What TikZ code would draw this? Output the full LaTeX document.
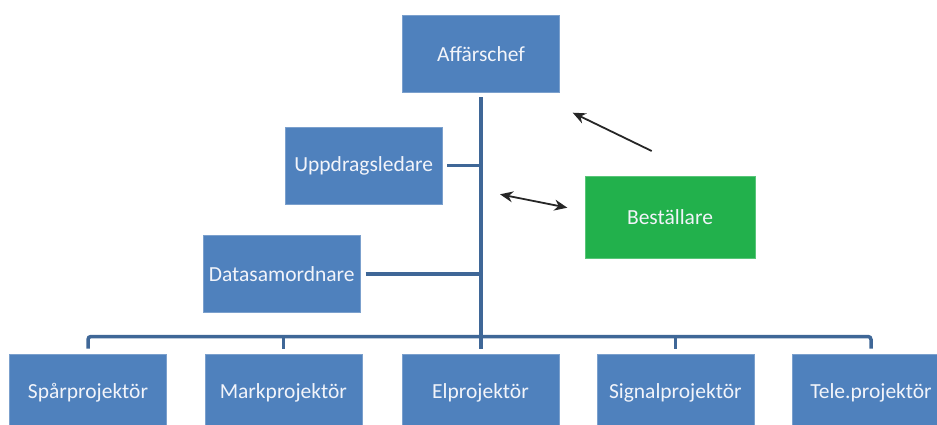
\documentclass[tikz,border=0pt]{standalone}
\usepackage{fontspec}
\setmainfont{Carlito}
\usetikzlibrary{arrows.meta}
\definecolor{boxblue}{HTML}{4F81BD}
\definecolor{lineblue}{HTML}{3F6797}
\definecolor{boxgreen}{HTML}{22B14C}
\definecolor{txt}{HTML}{F2F4FA}
\begin{document}
\begin{tikzpicture}[x=1pt,y=-1pt,
 box/.style={draw=boxblue!75!white, line width=0.6pt, fill=boxblue, text=txt,
   minimum width=157pt, minimum height=77pt, inner sep=0pt,
   font=\fontsize{21.5}{25}\selectfont},
 link/.style={draw=lineblue, line width=3.5pt},
 arr/.style={draw=black!85, line width=1.8pt, -{Stealth[length=13pt,width=11pt]}},
 darr/.style={draw=black!85, line width=1.8pt, {Stealth[length=13pt,width=11pt]}-{Stealth[length=13pt,width=11pt]}}]
\useasboundingbox (0,0) rectangle (937,425);

\node[box] (chef) at (481,53.7) {Affärschef};
\node[box] (upp) at (363.7,165.5) {Uppdragsledare};
\node[box] (data) at (281.7,274) {Datasamordnare};
\node[box, fill=boxgreen, draw=boxgreen!75!white, minimum width=170pt, minimum height=82pt] (best) at (670,217) {Beställare};

\node[box] (spar) at (88,392.5) {Spårprojektör};
\node[box] (mark) at (283.3,392.5) {Markprojektör};
\node[box] (el) at (480.5,392.5) {Elprojektör};
\node[box] (sig) at (675.3,392.5) {Signalprojektör};
\node[box] (tele) at (871,392.5) {Tele.projektör};

\coordinate (bus) at (481,336.5);

\draw[link] ([yshift=-5pt]chef.south) -- ([yshift=5pt]el.north -| chef.south);
\draw[link] ([xshift=4.5pt]upp.east) -- (upp.east -| chef.south);
\draw[link] ([xshift=5pt]data.east) -- (data.east -| chef.south);
\draw[link, rounded corners=3pt] ([yshift=5pt]spar.north) -- (spar.north |- bus) -- (tele.north |- bus) -- ([yshift=5pt]tele.north);
\draw[link] (mark.north |- bus) -- ([yshift=5pt]mark.north);
\draw[link] (sig.north |- bus) -- ([yshift=5pt]sig.north);

\coordinate (a1s) at (651.7,151);
\coordinate (a1e) at (572.7,112.7);
\coordinate (a2s) at (500,194.3);
\coordinate (a2e) at (567.3,207.7);
\draw[arr] (a1s) -- (a1e);
\draw[darr] (a2s) -- (a2e);
\end{tikzpicture}
\end{document}
